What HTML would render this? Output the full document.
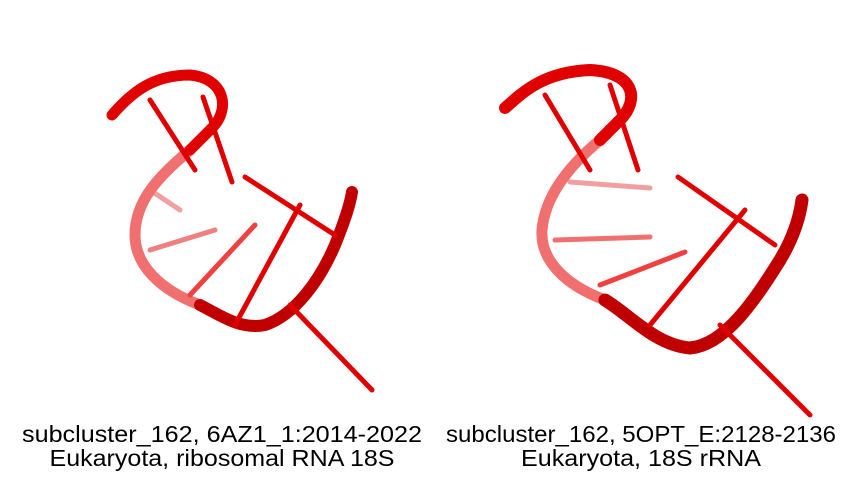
<!DOCTYPE html>
<html><head><meta charset="utf-8">
<style>
html,body{margin:0;padding:0;background:#fff;}
svg{display:block;}
text{font-family:"Liberation Sans",Arial,sans-serif;font-size:23px;fill:#000;}
</style></head>
<body>
<svg width="860" height="480" viewBox="0 0 860 480">
<g stroke-linecap="round" fill="none">
  <path d="M150,190 L180,210" stroke="#f0a0a0" stroke-width="5"/>
  <path d="M150,250 L215,230" stroke="#f08080" stroke-width="5"/>
  <path d="M190,150 C160,175 135,200 135,235 C135,265 160,290 200,305" stroke="#f07070" stroke-width="11"/>
  <path d="M112,115 C130,95 150,75 190,75 C225,78 232,110 210,130 L190,150" stroke="#e00000" stroke-width="11"/>
  <path d="M200,305 C220,315 240,330 265,325 C295,315 320,280 335,245 C345,220 350,205 352,192" stroke="#c00000" stroke-width="12"/>
  <path d="M150,100 L195,170" stroke="#e00000" stroke-width="5"/>
  <path d="M203,97 L232,182" stroke="#e00000" stroke-width="5"/>
  <path d="M245,177 L335,235" stroke="#e00000" stroke-width="5"/>
  <path d="M300,205 L235,325" stroke="#e00000" stroke-width="5"/>
  <path d="M190,295 L255,225" stroke="#f04040" stroke-width="5"/>
  <path d="M290,305 L372,390" stroke="#e00000" stroke-width="5"/>
</g>
<g stroke-linecap="round" fill="none">
  <path d="M570,182 L650,188" stroke="#f0a0a0" stroke-width="5"/>
  <path d="M555,240 L650,237" stroke="#f07070" stroke-width="5"/>
  <path d="M600,140 C570,165 545,195 542,230 C540,260 565,285 605,300" stroke="#f07070" stroke-width="11"/>
  <path d="M505,108 C525,90 545,72 590,70 C635,72 640,100 620,120 L600,140" stroke="#e00000" stroke-width="12"/>
  <path d="M605,300 C630,315 655,345 690,348 C725,345 755,300 780,260 C795,235 800,215 802,200" stroke="#c00000" stroke-width="13"/>
  <path d="M545,95 L590,170" stroke="#e00000" stroke-width="5"/>
  <path d="M610,85 L638,170" stroke="#e00000" stroke-width="5"/>
  <path d="M678,177 L775,245" stroke="#e00000" stroke-width="5"/>
  <path d="M745,210 L650,325" stroke="#e00000" stroke-width="5"/>
  <path d="M600,285 L685,252" stroke="#f04040" stroke-width="5"/>
  <path d="M720,325 L810,415" stroke="#e00000" stroke-width="5"/>
</g>
<text x="222" y="442" text-anchor="middle" textLength="400" lengthAdjust="spacingAndGlyphs">subcluster_162, 6AZ1_1:2014-2022</text>
<text x="222" y="466" text-anchor="middle" textLength="345" lengthAdjust="spacingAndGlyphs">Eukaryota, ribosomal RNA 18S</text>
<text x="641" y="442" text-anchor="middle" textLength="390" lengthAdjust="spacingAndGlyphs">subcluster_162, 5OPT_E:2128-2136</text>
<text x="641" y="466" text-anchor="middle" textLength="240" lengthAdjust="spacingAndGlyphs">Eukaryota, 18S rRNA</text>
</svg>
</body></html>
